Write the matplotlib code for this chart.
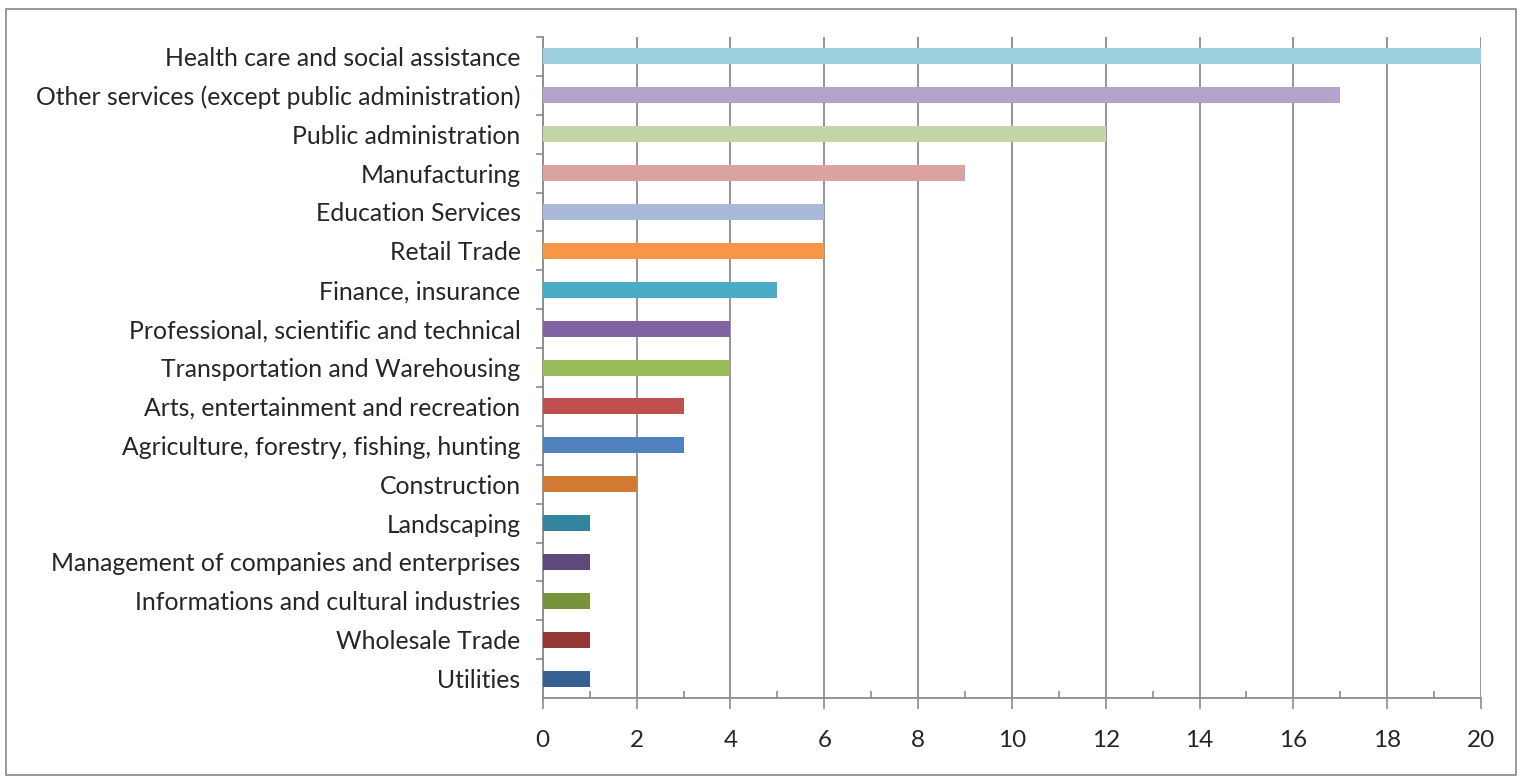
import matplotlib.pyplot as plt
from matplotlib.patches import Rectangle
from matplotlib.ticker import MultipleLocator

# --- data, top to bottom as drawn ---
industries = [
    "Health care and social assistance",
    "Other services (except public administration)",
    "Public administration",
    "Manufacturing",
    "Education Services",
    "Retail Trade",
    "Finance, insurance",
    "Professional, scientific and technical",
    "Transportation and Warehousing",
    "Arts, entertainment and recreation",
    "Agriculture, forestry, fishing, hunting",
    "Construction",
    "Landscaping",
    "Management of companies and enterprises",
    "Informations and cultural industries",
    "Wholesale Trade",
    "Utilities",
]
counts = [20, 17, 12, 9, 6, 6, 5, 4, 4, 3, 3, 2, 1, 1, 1, 1, 1]
bar_colors = [
    "#9dcfdd", "#b3a3ca", "#c3d6a7", "#dba2a2", "#a8b9db", "#f79646",
    "#4bacc6", "#8064a2", "#9bbb59", "#c0504d", "#4f81bd", "#d07a34",
    "#31849b", "#5f497a", "#77933c", "#953735", "#376092",
]

plt.rcParams['font.family'] = ['Lato', 'DejaVu Sans']

fig = plt.figure(figsize=(15.29, 7.8), dpi=100)
fig.patches.append(Rectangle((0.004, 0.006), 0.9875, 0.983, transform=fig.transFigure,
                             fill=False, edgecolor='#888888', linewidth=1.2))
ax = fig.add_axes([0.355, 0.105, 0.6136, 0.8476])

n = len(industries)
ypos = list(range(n))[::-1]
ax.barh(ypos, counts, height=0.41, color=bar_colors, zorder=3)

ax.set_xlim(0, 20)
ax.set_ylim(-0.5, n - 0.5)
ax.xaxis.set_major_locator(MultipleLocator(2))
ax.xaxis.set_minor_locator(MultipleLocator(1))
ax.grid(axis='x', which='major', color='#8c8c8c', linewidth=1.3, zorder=0)

ax.set_yticks(ypos)
ax.set_yticklabels(industries)
ax.set_yticks([y + 0.5 for y in range(n)], minor=True)

for s in ['top', 'right']:
    ax.spines[s].set_visible(False)
for s in ['left', 'bottom']:
    ax.spines[s].set_color('#8c8c8c')
    ax.spines[s].set_linewidth(1.3)

ax.tick_params(axis='y', which='major', length=0, pad=16, labelsize=17.8, labelcolor='#262626')
ax.tick_params(axis='y', which='minor', length=5, width=1.2, color='#8c8c8c', direction='out')
ax.tick_params(axis='x', which='major', length=8, width=1.2, color='#8c8c8c', direction='out',
               pad=15, labelsize=17.5, labelcolor='#262626')
ax.tick_params(axis='x', which='minor', length=5, width=1.2, color='#8c8c8c', direction='in')

fig.savefig('out.png', dpi=100)
